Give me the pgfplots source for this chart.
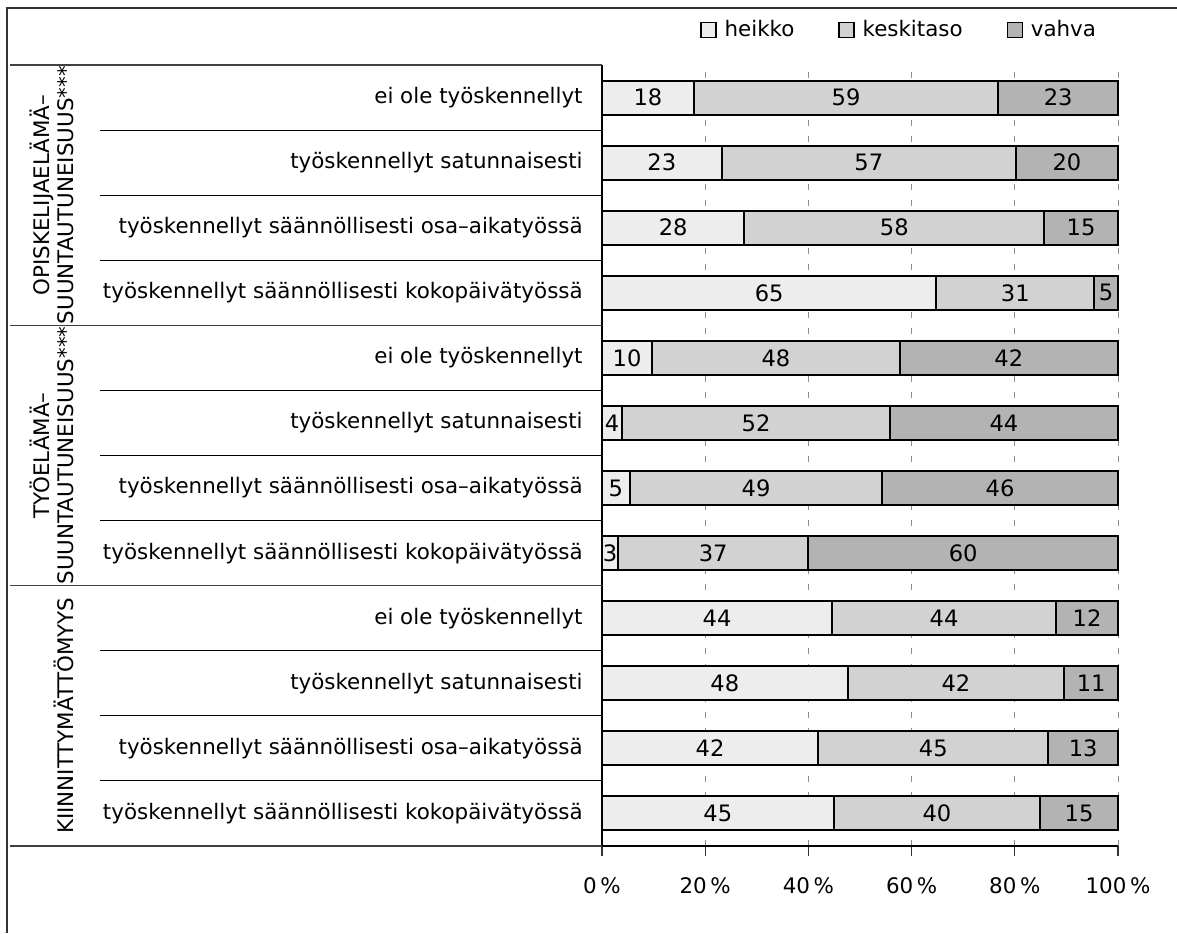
\documentclass[border=0pt]{standalone}
\usepackage{fontspec}
\setmainfont{DejaVu Sans}
\usepackage{pgfplots}
\usepackage{pgfplotstable}
\pgfplotsset{compat=1.18}

\definecolor{cH}{HTML}{EDEDED}
\definecolor{cK}{HTML}{D2D2D2}
\definecolor{cV}{HTML}{B3B3B3}

% yy = vertical position (row 1 at top = 12)
\pgfplotstableread{
yy h k v lh lk lv
12 17.8 59.0 23.2 18 59 23
11 23.2 57.0 19.8 23 57 20
10 27.6 58.1 14.3 28 58 15
9 64.8 30.6 4.6 65 31 5
8 9.7 48.0 42.3 10 48 42
7 3.9 51.9 44.2 4 52 44
6 5.4 48.9 45.7 5 49 46
5 3.1 36.9 60.0 3 37 60
4 44.6 43.4 12.0 44 44 12
3 47.6 42.0 10.4 48 42 11
2 41.9 44.6 13.5 42 45 13
1 44.9 40.0 15.1 45 40 15
}\data

\begin{document}
\fontsize{10.7}{11.7}\selectfont
\begin{tikzpicture}
\begin{axis}[
  at={(301pt,43.5pt)}, anchor=south west,
  scale only axis, width=258pt, height=390.5pt,
  xbar stacked, bar width=17pt,
  xmin=0, xmax=100, ymin=0.5, ymax=12.5,
  axis x line*=bottom, axis y line*=left,
  axis line style={black, line width=0.6pt},
  clip=false,
  xtick={0,20,40,60,80,100},
  xticklabels={0\,\%,20\,\%,40\,\%,60\,\%,80\,\%,100\,\%},
  tick align=outside, major tick length=5pt,
  xtick style={black!80, line width=0.6pt},
  xticklabel style={yshift=-7pt},
  ytick={1,...,12},
  ytick style={draw=none},
  yticklabels={työskennellyt säännöllisesti kokopäivätyössä,työskennellyt säännöllisesti osa–aikatyössä,työskennellyt satunnaisesti,ei ole työskennellyt,työskennellyt säännöllisesti kokopäivätyössä,työskennellyt säännöllisesti osa–aikatyössä,työskennellyt satunnaisesti,ei ole työskennellyt,työskennellyt säännöllisesti kokopäivätyössä,työskennellyt säännöllisesti osa–aikatyössä,työskennellyt satunnaisesti,ei ole työskennellyt},
  yticklabel style={anchor=east, inner sep=0pt, xshift=-4.5pt},
  xmajorgrids, grid style={dash pattern=on 3pt off 5pt, black!45, line width=0.5pt},
  point meta=explicit symbolic,
  nodes near coords={\pgfplotspointmeta},
  every node near coord/.append style={anchor=center, text=black, font=\fontsize{11.3}{12}\selectfont},
  legend style={at={(axis description cs:0.190,1.0448)}, anchor=west, draw=none, fill=none,
    inner sep=0pt, /tikz/every even column/.append style={column sep=20pt},
    /tikz/every odd column/.append style={column sep=2pt}},
  legend columns=3,
  legend image code/.code={\draw[#1, line width=0.6pt] (0pt,-3.75pt) rectangle (7.5pt,3.75pt);},
]
\addplot[forget plot, fill=cH, draw=black, line width=1pt]
  table[x=h, y=yy, meta=lh] {\data};
\addplot[forget plot, fill=cK, draw=black, line width=1pt]
  table[x=k, y=yy, meta=lk] {\data};
\addplot[forget plot, fill=cV, draw=black, line width=1pt]
  table[x=v, y=yy, meta=lv] {\data};
\addlegendimage{fill=cH, draw=black}
\addlegendimage{fill=cK, draw=black}
\addlegendimage{fill=cV, draw=black}
\legend{heikko,keskitaso,vahva}

\pgfplotsinvokeforeach{1.5,2.5,3.5,5.5,6.5,7.5,9.5,10.5,11.5}{
  \draw[black, line width=0.5pt] ([xshift=-251pt]axis cs:0,#1) -- (axis cs:0,#1);
}
\pgfplotsinvokeforeach{0.5,4.5,8.5,12.5}{
  \draw[black!75, line width=0.7pt] ([xshift=-296pt]axis cs:0,#1) -- (axis cs:0,#1);
}
\node[rotate=90, anchor=south, inner sep=0pt, align=center] at ([xshift=-264pt]axis cs:0,10.5)
  {OPISKELIJAELÄMÄ–\\SUUNTAUTUNEISUUS***};
\node[rotate=90, anchor=south, inner sep=0pt, align=center] at ([xshift=-264pt]axis cs:0,6.5)
  {TYÖELÄMÄ–\\SUUNTAUTUNEISUUS***};
\node[rotate=90, anchor=south, inner sep=0pt, align=center] at ([xshift=-264pt]axis cs:0,2.5)
  {KIINNITTYMÄTTÖMYYS};
\end{axis}
\draw[black!80, line width=1pt] (3.5pt,0pt) -- (3.5pt,462.5pt) -- (588.5pt,462.5pt);
\pgfresetboundingbox
\path[use as bounding box] (0pt,0pt) rectangle (588.5pt,466.5pt);
\end{tikzpicture}
\end{document}
